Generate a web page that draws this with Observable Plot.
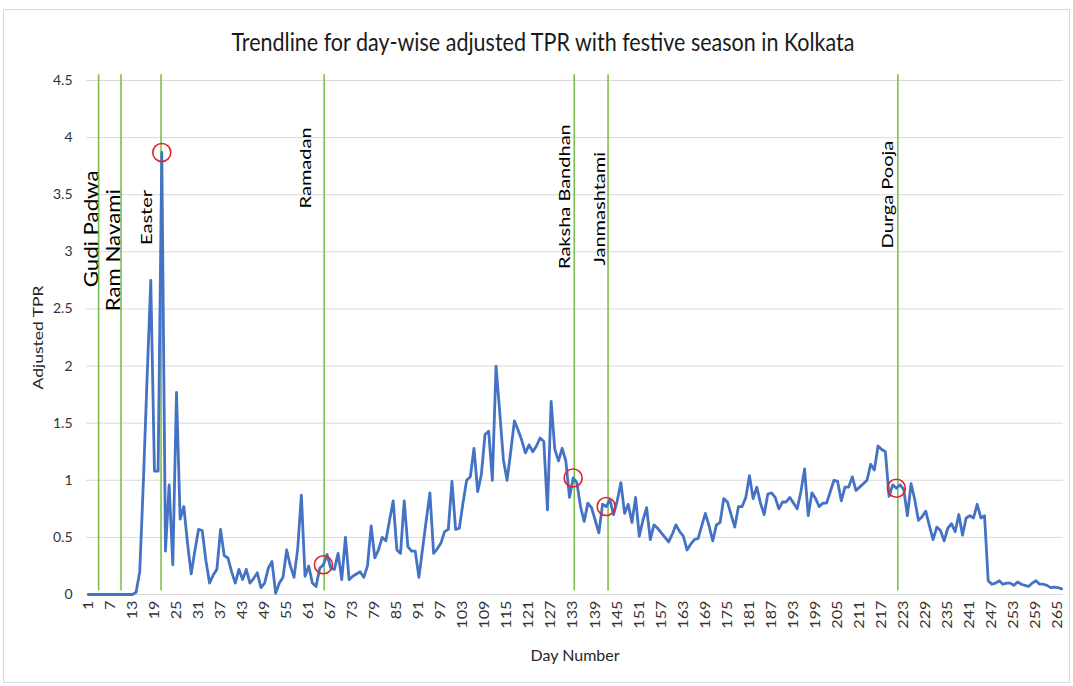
<!DOCTYPE html>
<html>
<head>
<meta charset="utf-8">
<script src="https://cdn.jsdelivr.net/npm/d3@7"></script>
<script src="https://cdn.jsdelivr.net/npm/@observablehq/plot@0.6"></script>
<style>
  body { margin: 0; background: #fff; font-family: Lato, "Open Sans", sans-serif; }
  #frame { position: absolute; left: 3px; top: 9px; width: 1067px; height: 674px; border: 1px solid #d9d9d9; box-sizing: border-box; }
  #wrap { position: absolute; left: 0; top: 0; width: 1073px; }
  #title { height: 62px; box-sizing: border-box; padding-top: 29px; padding-left: 13px; text-align: center; font-size: 21.5px; line-height: 24px; color: #1a1a1a; }
  #title span { display: inline-block; transform: scaleY(1.2); }
  svg { display: block; }
</style>
</head>
<body>
<div id="frame"></div>
<div id="wrap">
  <div id="title"><span>Trendline for day-wise adjusted TPR with festive season in Kolkata</span></div>
  <div id="chart"></div>
</div>
<script>
// Adjusted TPR per day (day 1 .. 266)
const tpr = [
  0,0,0,0,0,0,0,0,0,0,
  0,0,0,0.02,0.2,1.0,1.9,2.75,1.08,1.08,
  3.87,0.38,0.96,0.26,1.77,0.66,0.77,0.45,0.18,0.38,
  0.57,0.56,0.3,0.1,0.17,0.22,0.57,0.34,0.32,0.2,
  0.1,0.22,0.13,0.22,0.1,0.14,0.19,0.06,0.1,0.23,
  0.29,0.01,0.1,0.15,0.39,0.25,0.15,0.4,0.87,0.16,
  0.25,0.1,0.07,0.23,0.26,0.35,0.23,0.22,0.36,0.13,
  0.5,0.13,0.16,0.18,0.2,0.15,0.25,0.6,0.32,0.39,
  0.5,0.47,0.65,0.82,0.39,0.36,0.82,0.42,0.38,0.38,
  0.15,0.4,0.65,0.89,0.36,0.4,0.45,0.55,0.57,0.99,
  0.57,0.58,0.8,1.0,1.03,1.28,0.9,1.05,1.4,1.43,
  1.0,2.0,1.6,1.18,1.0,1.25,1.52,1.44,1.35,1.24,
  1.31,1.25,1.3,1.37,1.34,0.74,1.69,1.27,1.17,1.28,
  1.17,0.85,1.02,0.98,0.77,0.64,0.8,0.76,0.65,0.54,
  0.79,0.77,0.83,0.7,0.82,0.98,0.71,0.79,0.63,0.85,
  0.51,0.65,0.76,0.48,0.61,0.58,0.54,0.5,0.46,0.53,
  0.61,0.55,0.51,0.39,0.44,0.48,0.49,0.6,0.71,0.6,
  0.47,0.61,0.63,0.84,0.81,0.7,0.59,0.77,0.77,0.85,
  1.04,0.84,0.94,0.8,0.7,0.88,0.89,0.85,0.75,0.81,
  0.81,0.85,0.8,0.75,0.9,1.1,0.69,0.89,0.84,0.77,
  0.8,0.8,0.9,1.0,0.99,0.82,0.94,0.94,1.03,0.91,
  0.94,0.97,1.0,1.14,1.09,1.3,1.27,1.25,0.86,0.96,
  0.93,0.96,0.92,0.69,0.97,0.83,0.65,0.68,0.73,0.6,
  0.48,0.59,0.56,0.47,0.58,0.62,0.55,0.7,0.52,0.67,
  0.69,0.67,0.79,0.67,0.69,0.12,0.09,0.1,0.12,0.09,
  0.1,0.1,0.08,0.11,0.09,0.08,0.07,0.1,0.12,0.09,
  0.09,0.08,0.06,0.065,0.06,0.05
];
const days = tpr.map((_, i) => i + 1);

// Axis ticks
const xTicks = d3.range(1, 266, 6);
const yTicks = [0, 0.5, 1, 1.5, 2, 2.5, 3, 3.5, 4, 4.5];

// Festivals
const festivals = ["Gudi Padwa", "Ram Navami", "Easter", "Ramadan", "Raksha Bandhan", "Janmashtami", "Durga Pooja"];
const festivalDays = [3.8, 9.9, 20.8, 65.2, 133.3, 142.5, 221.4];
// highlighted (circled) days
const highlightDays = [21, 65, 133, 142, 221];

// layout of festival labels: start of rotated text (TPR units) and horizontal nudge (px)
const labelStart = [2.69, 2.48, 3.06, 3.38, 2.85, 2.88, 3.03];
const labelNudge = [-1, -1, -9, -13, -4, -3, -5];

const series = days.map((d, i) => ({day: d, value: tpr[i]}));
const fest = festivals.map((name, i) => ({name, day: festivalDays[i], at: labelStart[i], nudge: labelNudge[i]}));
const circles = highlightDays.map(d => ({day: d, value: tpr[d - 1]}));

const festText = (rows, size, tag) => rows.map(r =>
  Plot.text([r], {x: "day", y: "at", text: "name", rotate: -90, textAnchor: "start", lineAnchor: "bottom",
    dx: r.nudge, fontSize: size, fill: "#000", ariaDescription: tag}));

const chart = Plot.plot({
  width: 1073,
  height: 624,
  marginTop: 18,
  marginBottom: 92,
  marginLeft: 86,
  marginRight: 10,
  style: {fontFamily: "Lato, 'Open Sans', sans-serif", color: "#333", background: "transparent"},
  x: {type: "linear", domain: [0.5, 266.5]},
  y: {domain: [0, 4.5]},
  marks: [
    Plot.ruleY(yTicks, {stroke: "#d9d9d9", strokeWidth: 1}),
    Plot.axisY({ticks: yTicks, tickSize: 0, tickPadding: 14, tickFormat: d => String(d), fontSize: 14, label: null}),
    Plot.axisX({ticks: xTicks, tickSize: 0, tickPadding: 6, tickRotate: -90, tickFormat: d => String(d), fontSize: 13.5, label: null}),
    Plot.text(["Adjusted TPR"], {frameAnchor: "left", textAnchor: "middle", dx: -48, rotate: -90, fontSize: 14, fill: "#262626", ariaDescription: "ylabel"}),
    Plot.text(["Day Number"], {frameAnchor: "bottom", dy: 66, fontSize: 16, fill: "#262626"}),
    Plot.ruleX(fest, {x: "day", y1: 0.03, y2: 4.55, stroke: "#7dbf4e", strokeWidth: 1.6}),
    Plot.line(series, {x: "day", y: "value", stroke: "#4472c4", strokeWidth: 2.8, strokeLinejoin: "round"}),
    Plot.dot(circles, {x: "day", y: "value", r: 9, stroke: "#e0262a", strokeWidth: 1.6, fill: "none"}),
    ...festText(fest.slice(0, 2), 19, "fest-big"),
    ...festText(fest.slice(2), 14.5, "fest-small")
  ]
});

// the reference rendering is vertically stretched: lengthen rotated texts along their reading direction
const stretch = (sel, k) => chart.querySelectorAll(sel).forEach(t => {
  const tr = t.getAttribute("transform") || "";
  t.setAttribute("transform", tr + ` scale(${k},1)`);
});
stretch('g[aria-description="fest-big"] text', 1.17);
stretch('g[aria-description="fest-small"] text', 1.38);
stretch('g[aria-description="ylabel"] text', 1.25);
stretch('g[aria-label="x-axis tick label"] text', 1.2);

document.getElementById("chart").appendChild(chart);
</script>
</body>
</html>
